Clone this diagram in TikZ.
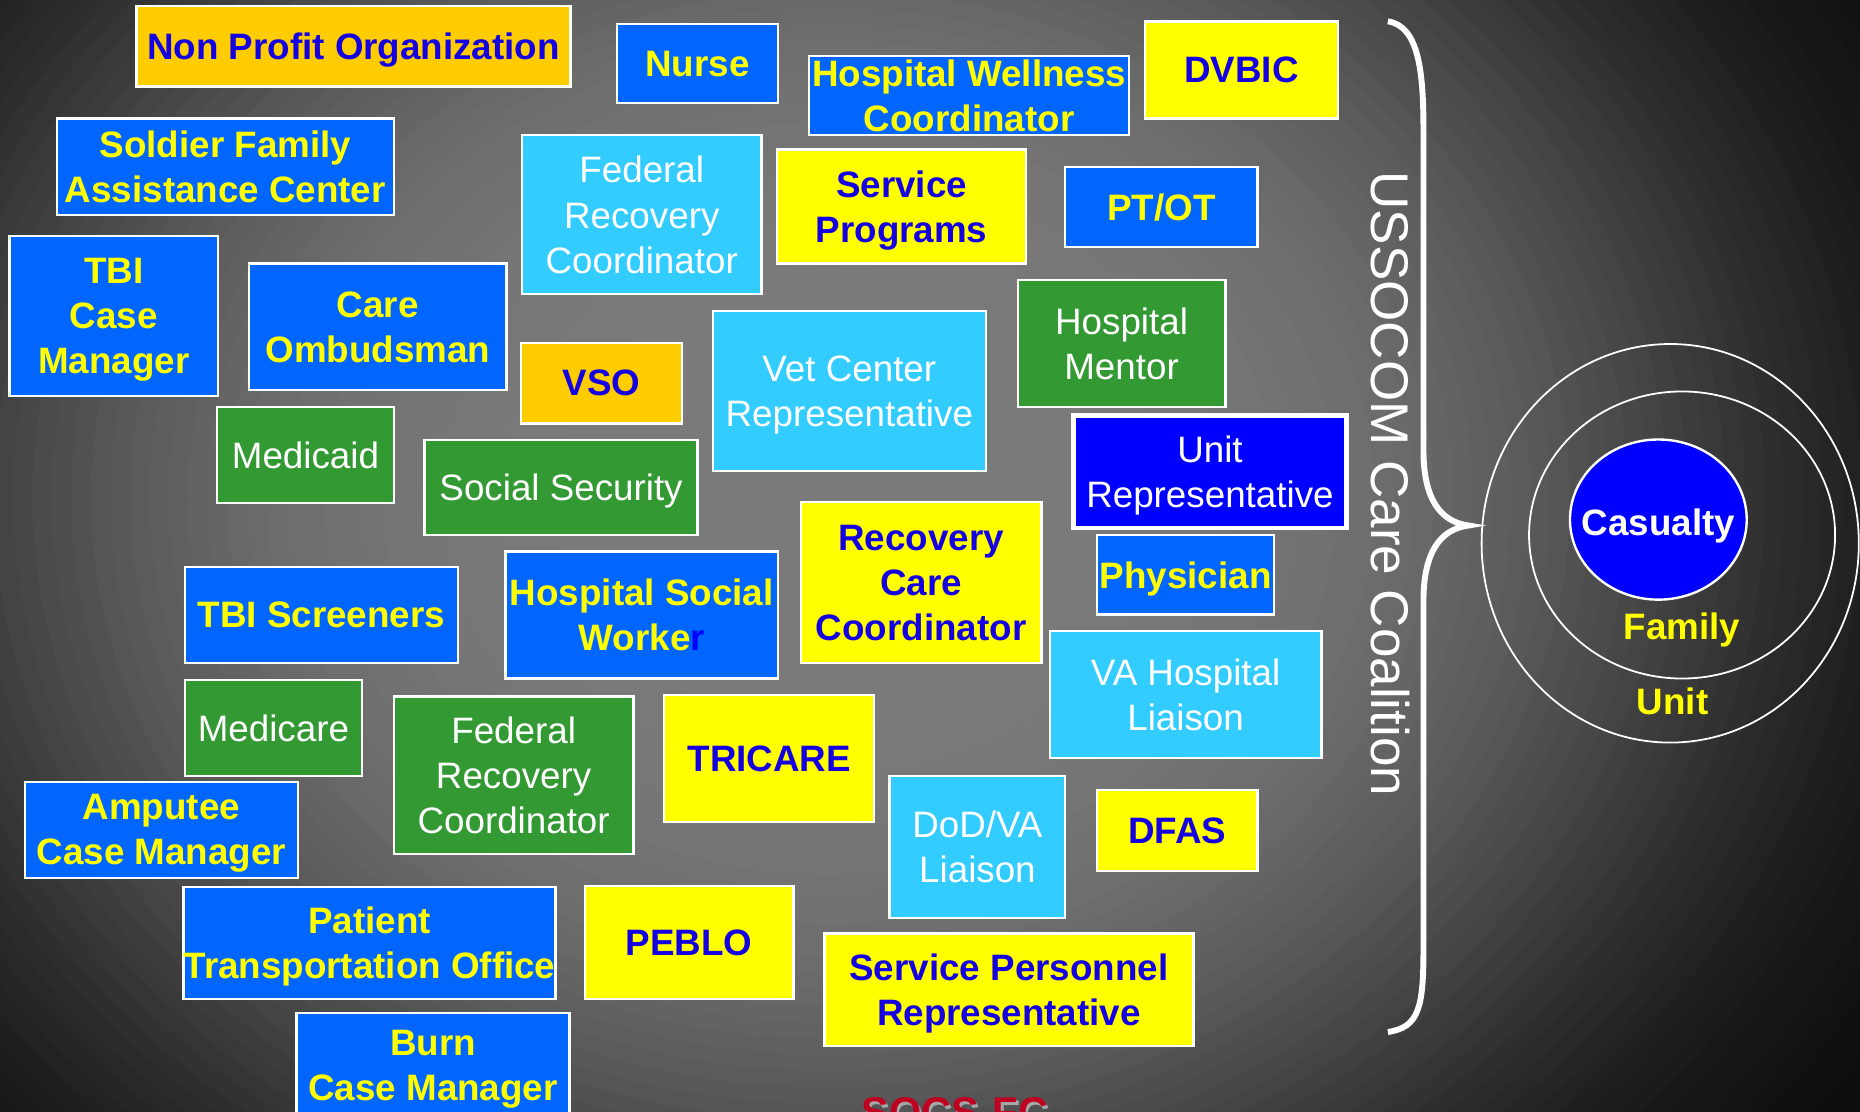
\documentclass[tikz,border=0pt]{standalone}
\usepackage{fontspec}
\setmainfont{Liberation Sans}

\definecolor{boxblue}{RGB}{0,102,255}
\definecolor{skyblue}{RGB}{51,204,255}
\definecolor{grassgreen}{RGB}{51,153,51}
\definecolor{lemon}{RGB}{255,255,0}
\definecolor{amber}{RGB}{255,204,0}
\definecolor{deepblue}{RGB}{0,0,255}
\definecolor{inkblue}{RGB}{20,0,225}
\definecolor{socsred}{RGB}{192,0,32}

\begin{document}
\begin{tikzpicture}[x=1pt, y=-1pt,
  card/.style={draw=white, line width=2pt, inner sep=0pt, align=center, text depth=0pt},
  boldtext/.style={font=\fontsize{31}{38}\selectfont\bfseries},
  plaintext/.style={font=\fontsize{31}{38}\selectfont},
  bluecard/.style={card, boldtext, fill=boxblue, text=lemon},
  yellowcard/.style={card, boldtext, fill=lemon, text=inkblue},
  ambercard/.style={card, boldtext, fill=amber, text=inkblue},
  skycard/.style={card, plaintext, fill=skyblue, text=white},
  greencard/.style={card, plaintext, fill=grassgreen, text=white},
  unitcard/.style={card, plaintext, fill=deepblue, text=white, line width=4pt},
  ring/.style={draw=white, line width=1.5pt}]
  \useasboundingbox (0,0) rectangle (1568,937);
  \clip (0,0) rectangle (1568,937);
  \fill[white!4!black] (0,0) rectangle (1568,937);
  \foreach \i in {80,79,...,1} {
    \pgfmathsetmacro{\r}{\i*0.02}
    \pgfmathsetmacro{\g}{100*(0.04+0.44*exp(-(\r/0.95)^4))}
    \fill[white!\g!black] (700,420) ellipse [x radius=820*\r, y radius=690*\r];
  }

  \node[ambercard, minimum width=366, minimum height=68] (nonprofit) at (298,39) {Non Profit Organization};
  \node[bluecard, minimum width=136, minimum height=67] (nurse) at (588,53.5) {Nurse};
  \node[bluecard, minimum width=270, minimum height=67] (wellness) at (817,80.5) {Hospital Wellness\\Coordinator};
  \node[yellowcard, minimum width=163, minimum height=82] (dvbic) at (1046.5,59) {DVBIC};
  \node[bluecard, minimum width=284, minimum height=81] (sfac) at (190,140.5) {Soldier Family\\Assistance Center};
  \node[skycard, minimum width=202, minimum height=134] (frcsky) at (541,181) {Federal\\Recovery\\Coordinator};
  \node[yellowcard, minimum width=210, minimum height=96] (servprog) at (760,174) {Service\\Programs};
  \node[bluecard, minimum width=162, minimum height=67] (ptot) at (979,174.5) {PT/OT};
  \node[bluecard, minimum width=176, minimum height=135] (tbicase) at (96,266.5) {TBI\\Case\\Manager};
  \node[bluecard, minimum width=217, minimum height=107] (ombuds) at (318.5,275.5) {Care\\Ombudsman};
  \node[ambercard, minimum width=136, minimum height=68] (vso) at (507,323) {VSO};
  \node[skycard, minimum width=230, minimum height=135] (vetctr) at (716,329.5) {Vet Center\\Representative};
  \node[greencard, minimum width=175, minimum height=107] (mentor) at (945.5,289.5) {Hospital\\Mentor};
  \node[unitcard, minimum width=230, minimum height=95] (unitrep) at (1020,397.5) {Unit\\Representative};
  \node[greencard, minimum width=149, minimum height=81] (medicaid) at (257.5,383.5) {Medicaid};
  \node[greencard, minimum width=230, minimum height=80] (socsec) at (473,411) {Social Security};
  \node[yellowcard, minimum width=203, minimum height=136] (rcc) at (776.5,491) {Recovery\\Care\\Coordinator};
  \node[bluecard, minimum width=149, minimum height=67] (physician) at (999.5,484.5) {Physician};
  \node[bluecard, minimum width=230, minimum height=81] (tbiscr) at (271,518.5) {TBI Screeners};
  \node[bluecard, minimum width=230, minimum height=107] (socwork) at (541,518.5) {Hospital Social\\Worke{\color{deepblue}r}};
  \node[skycard, minimum width=229, minimum height=107] (vahosp) at (999.5,585.5) {VA Hospital\\Liaison};
  \node[greencard, minimum width=149, minimum height=81] (medicare) at (230.5,613.5) {Medicare};
  \node[greencard, minimum width=202, minimum height=133] (frcgreen) at (433,653.5) {Federal\\Recovery\\Coordinator};
  \node[yellowcard, minimum width=177, minimum height=107] (tricare) at (648.5,639.5) {TRICARE};
  \node[bluecard, minimum width=230, minimum height=81] (amputee) at (136,699.5) {Amputee\\Case Manager};
  \node[skycard, minimum width=148, minimum height=120] (dodva) at (824,714) {DoD/VA\\Liaison};
  \node[yellowcard, minimum width=135, minimum height=68] (dfas) at (992.5,700) {DFAS};
  \node[bluecard, minimum width=311, minimum height=94] (pto) at (311.5,795) {Patient\\Transportation Office};
  \node[yellowcard, minimum width=176, minimum height=95] (peblo) at (581,794.5) {PEBLO};
  \node[yellowcard, minimum width=311, minimum height=95] (spr) at (850.5,834.5) {Service Personnel\\Representative};
  \node[bluecard, minimum width=230, minimum height=88] (burn) at (365,898) {Burn\\Case Manager};

  \node[text=gray!70, font=\fontsize{35}{40}\selectfont\bfseries, anchor=base] (socsshadow) at (807,952) {SOCS-FC};
  \node[text=socsred, font=\fontsize{35}{40}\selectfont\bfseries, anchor=base] (socs) at (805,950) {SOCS-FC};

  \draw[white, line width=5pt] (1170,18) .. controls (1196,22) and (1200,60) .. (1200,110)
    -- (1200,380) .. controls (1200,420) and (1214,440) .. (1238,443)
    .. controls (1214,446) and (1200,466) .. (1200,506)
    -- (1200,800) .. controls (1200,850) and (1196,866) .. (1170,870);
  \node[text=white, rotate=-90, font=\fontsize{44.7}{50}\selectfont] (coalition) at (1172,408) {USSOCOM Care Coalition};

  \draw[ring] (1408,458) ellipse [x radius=159, y radius=168];
  \draw[ring] (1418,451) ellipse [x radius=129, y radius=121];
  \filldraw[fill=deepblue, draw=white, line width=2pt] (1398,438) ellipse [x radius=74.5, y radius=67.5];
  \node[text=white, boldtext, text depth=0pt] (casualty) at (1398,440) {Casualty};
  \node[text=lemon, boldtext, text depth=0pt] (family) at (1418,528) {Family};
  \node[text=lemon, boldtext] (unit) at (1410,591) {Unit};
\end{tikzpicture}
\end{document}
